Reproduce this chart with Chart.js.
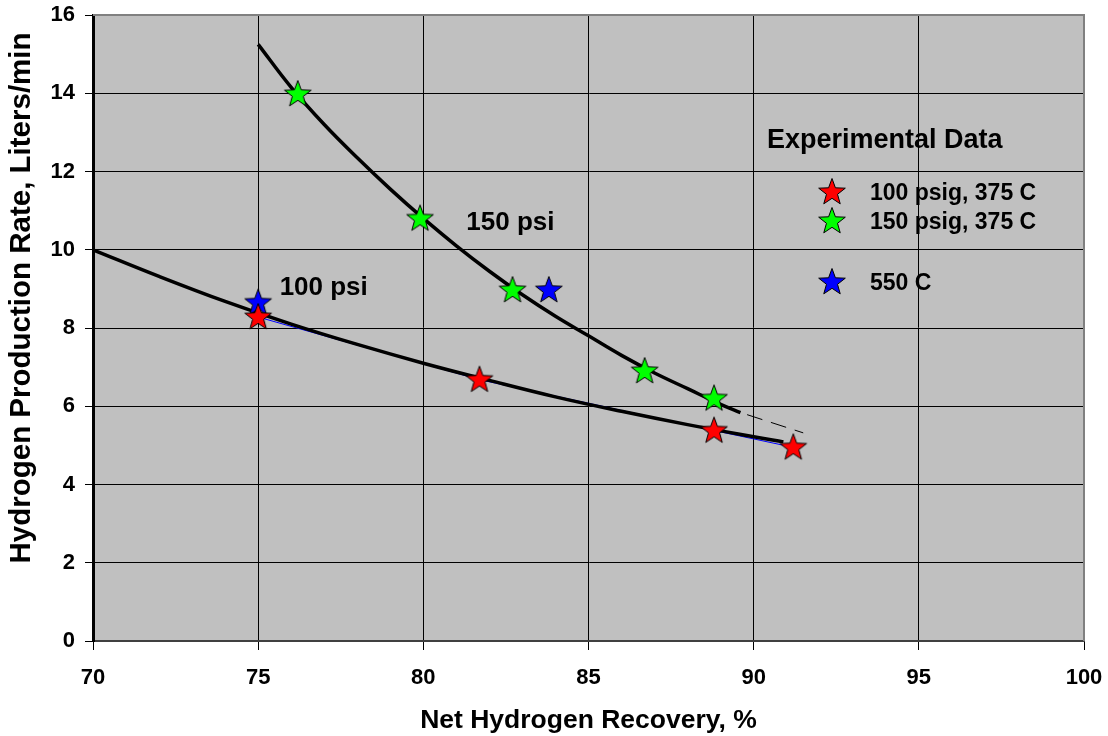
<!DOCTYPE html>
<html>
<head>
<meta charset="utf-8">
<script src="https://cdn.jsdelivr.net/npm/chart.js@4.4.0/dist/chart.umd.min.js"></script>
<style>
  body { margin: 0; background: #fff; }
  #wrap { width: 1108px; height: 736px; }
</style>
</head>
<body>
<div id="wrap"><canvas id="chart" width="1108" height="736"></canvas></div>
<script>
"use strict";

// experimental points
const redX = [75.0, 81.7, 88.8, 91.2];
const redY = [8.28, 6.68, 5.38, 4.95];
const greenX = [76.2, 79.9, 82.7, 86.7, 88.8];
const greenY = [13.98, 10.8, 8.97, 6.9, 6.2];
const blueX = [75.0, 83.8];
const blueY = [8.65, 8.97];

// fitted curves
const curve100X = [70, 72, 74, 76, 78, 80, 82, 84, 86, 88, 90, 90.9];
const curve100Y = [10.0, 9.32, 8.68, 8.1, 7.58, 7.1, 6.66, 6.24, 5.87, 5.53, 5.22, 5.09];
const curve150X = [75, 76, 77, 78, 79, 80, 81, 82, 83, 84, 85, 86, 87, 88, 89, 89.6];
const curve150Y = [15.25, 14.15, 13.2, 12.35, 11.55, 10.8, 10.1, 9.45, 8.85, 8.3, 7.8, 7.3, 6.85, 6.45, 6.05, 5.84];
const extrapX = [89.6, 91.5];
const extrapY = [5.84, 5.32];

const xTicks = [70, 75, 80, 85, 90, 95, 100];
const yTicks = [0, 2, 4, 6, 8, 10, 12, 14, 16];

const legendLabels = ["100 psig, 375 C", "150 psig, 375 C", "550 C"];

const FONT = "'Liberation Sans', Arial, sans-serif";

const toPoints = (xs, ys) => xs.map((x, i) => ({ x: x, y: ys[i] }));

const makeStar = (fill) => {
  const c = document.createElement("canvas");
  c.width = 32;
  c.height = 32;
  const ctx = c.getContext("2d");
  const R = 14, r = 5.8, cx = 16, cy = 16.5;
  ctx.beginPath();
  for (let i = 0; i < 10; i++) {
    const rad = i % 2 === 0 ? R : r;
    const a = -Math.PI / 2 + i * Math.PI / 5;
    const px = cx + rad * Math.cos(a);
    const py = cy + rad * Math.sin(a);
    if (i === 0) ctx.moveTo(px, py); else ctx.lineTo(px, py);
  }
  ctx.closePath();
  ctx.fillStyle = fill;
  ctx.fill();
  ctx.lineWidth = 1;
  ctx.strokeStyle = "#000";
  ctx.stroke();
  return c;
};

const redStar = makeStar("#ff0000");
const greenStar = makeStar("#00ff00");
const blueStar = makeStar("#0000ff");

const plotDecor = {
  id: "plotDecor",
  beforeDraw(chart) {
    const { ctx, chartArea: a } = chart;
    ctx.save();
    ctx.fillStyle = "#c0c0c0";
    ctx.fillRect(a.left, a.top, a.right - a.left, a.bottom - a.top);
    ctx.restore();
  },
  afterDraw(chart) {
    const { ctx, chartArea: a, scales } = chart;
    const xs = scales.x, ys = scales.y;
    ctx.save();
    // top and right frame
    ctx.strokeStyle = "#808080";
    ctx.lineWidth = 2;
    ctx.beginPath();
    ctx.moveTo(a.left, a.top);
    ctx.lineTo(a.right, a.top);
    ctx.lineTo(a.right, a.bottom);
    ctx.stroke();

    // y axis title
    ctx.fillStyle = "#000";
    ctx.font = "bold 29.5px " + FONT;
    ctx.textAlign = "center";
    ctx.textBaseline = "middle";
    ctx.translate(22, 298);
    ctx.rotate(-Math.PI / 2);
    ctx.fillText("Hydrogen Production Rate, Liters/min", 0, 0);
    ctx.setTransform(1, 0, 0, 1, 0, 0);

    // curve labels
    ctx.textAlign = "left";
    ctx.font = "bold 26px " + FONT;
    ctx.fillText("150 psi", xs.getPixelForValue(81.3), ys.getPixelForValue(10.68));
    ctx.fillText("100 psi", xs.getPixelForValue(75.65), ys.getPixelForValue(9.03));

    // in-plot legend
    ctx.font = "bold 27px " + FONT;
    ctx.fillText("Experimental Data", 767, 141);
    ctx.font = "bold 23px " + FONT;
    const stars = [redStar, greenStar, blueStar];
    const rows = [193, 222, 283];
    stars.forEach((s, i) => {
      ctx.drawImage(s, 832 - 16, rows[i] - 17);
      ctx.fillText(legendLabels[i], 870, rows[i] + 1);
    });
    ctx.restore();
  },
};

document.addEventListener("DOMContentLoaded", function () {
  const canvasElement = document.getElementById("chart");

  new Chart(canvasElement, {
    type: "scatter",
    data: {
      datasets: [
        {
          label: "100 psi fit",
          data: toPoints(curve100X, curve100Y),
          showLine: true,
          borderColor: "#000",
          borderWidth: 3.5,
          pointRadius: 0,
          tension: 0.4,
          order: 10,
        },
        {
          label: "100 psi link",
          data: toPoints(redX, redY),
          showLine: true,
          borderColor: "#0000ff",
          borderWidth: 1,
          pointRadius: 0,
          order: 11,
        },
        {
          label: "150 psi fit",
          data: toPoints(curve150X, curve150Y),
          showLine: true,
          borderColor: "#000",
          borderWidth: 3.5,
          pointRadius: 0,
          tension: 0.4,
          order: 10,
        },
        {
          label: "150 psi extrapolation",
          data: toPoints(extrapX, extrapY),
          showLine: true,
          borderColor: "#000",
          borderWidth: 1,
          borderDash: [16, 9],
          borderDashOffset: -7,
          pointRadius: 0,
          order: 10,
        },
        {
          label: "550 C",
          data: toPoints(blueX, blueY),
          pointStyle: blueStar,
          order: 3,
        },
        {
          label: "150 psig, 375 C",
          data: toPoints(greenX, greenY),
          pointStyle: greenStar,
          order: 2,
        },
        {
          label: "100 psig, 375 C",
          data: toPoints(redX, redY),
          pointStyle: redStar,
          order: 1,
        },
      ],
    },
    options: {
      responsive: false,
      animation: false,
      layout: { padding: { top: 15, right: 24, left: 0, bottom: 0 } },
      plugins: {
        legend: { display: false },
        tooltip: { enabled: false },
      },
      scales: {
        x: {
          type: "linear",
          min: 70,
          max: 100,
          afterFit: (s) => { s.height = 95; s.paddingLeft = 0; s.paddingRight = 0; },
          afterBuildTicks: (s) => { s.ticks = xTicks.map(v => ({ value: v })); },
          ticks: {
            color: "#000",
            font: { family: FONT, size: 22, weight: "bold" },
            padding: 15,
            maxRotation: 0,
          },
          grid: {
            color: (c) => (c.tick && c.tick.value === 100 ? "#808080" : "#000"),
            tickColor: "#000",
            tickLength: 9,
            lineWidth: 1,
          },
          border: { color: "#404040", width: 2 },
          title: {
            display: true,
            text: "Net Hydrogen Recovery, %",
            color: "#000",
            font: { family: FONT, size: 26.5, weight: "bold" },
            padding: { top: 12, bottom: -1 },
          },
        },
        y: {
          type: "linear",
          min: 0,
          max: 16,
          afterFit: (s) => { s.width = 93; s.paddingTop = 0; s.paddingBottom = 0; },
          afterBuildTicks: (s) => { s.ticks = yTicks.map(v => ({ value: v })); },
          ticks: {
            color: "#000",
            font: { family: FONT, size: 22, weight: "bold" },
            padding: 10,
          },
          grid: {
            color: (c) => (c.tick && c.tick.value === 16 ? "#808080" : "#000"),
            tickColor: "#000",
            tickLength: 8,
            lineWidth: 1,
          },
          border: { color: "#000", width: 3 },
        },
      },
    },
    plugins: [plotDecor],
  });
});
</script>
</body>
</html>
